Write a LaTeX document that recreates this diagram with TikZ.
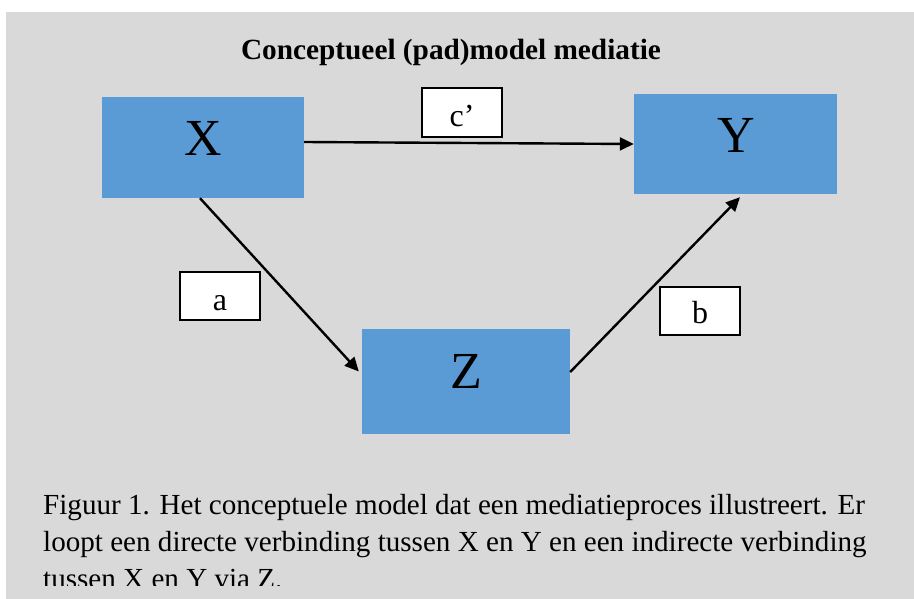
\documentclass[tikz,border=0pt]{standalone}
\usepackage{fontspec}
\setmainfont{Liberation Serif}
\usetikzlibrary{arrows.meta}

\definecolor{panelgray}{HTML}{D9D9D9}
\definecolor{varblue}{HTML}{5B9BD5}

\tikzset{
  varbox/.style={fill=varblue, draw=none, inner sep=0pt},
  varletter/.style={anchor=base, inner sep=0pt, font=\fontsize{52}{60}\selectfont},
  pathlabel/.style={fill=white, draw=black, line width=1.1pt, inner sep=0pt,
                    minimum width=80pt, minimum height=48pt},
  pathtext/.style={anchor=base, inner sep=0pt, font=\fontsize{32}{38}\selectfont},
  effect/.style={line width=2.4pt, -{Triangle[length=14pt,width=13pt]}},
  captionline/.style={anchor=base west, inner sep=0pt, font=\fontsize{29.1}{37}\selectfont}
}

\begin{document}
\begin{tikzpicture}[x=1pt, y=-1pt]
  \useasboundingbox (0,0) rectangle (914,599);
  \fill[white] (0,0) rectangle (914,599);
  \fill[panelgray] (6,12) rectangle (914,599);

  % title
  \node[anchor=base, inner sep=0pt, font=\bfseries\fontsize{29.3}{35}\selectfont]
    (title) at (451,60) {Conceptueel (pad)model mediatie};

  % variables
  \node[varbox, minimum width=202pt, minimum height=101pt] (X) at (203,147.5) {};
  \node[varbox, minimum width=203pt, minimum height=100pt] (Y) at (735.5,144) {};
  \node[varbox, minimum width=208pt, minimum height=105pt] (Z) at (466,381.5) {};
  \node[varletter] (Xt) at (203,156) {X};
  \node[varletter] (Yt) at (736,153) {Y};
  \node[varletter] (Zt) at (466,388) {Z};

  % paths
  \draw[effect] ([yshift=5.5pt]X.east) -- (Y.west);
  \draw[effect] ([xshift=-3pt]X.south) -- ([xshift=-3pt,yshift=10pt]Z.west);
  \draw[effect] ([yshift=9.5pt]Z.east) -- ([xshift=4.5pt,yshift=-3pt]Y.south);

  % path coefficient labels
  \node[pathlabel, minimum height=49pt] (cbox) at (462,112.5) {};
  \node[pathlabel] (abox) at (220,296) {};
  \node[pathlabel] (bbox) at (700,311) {};
  \node[pathtext] (ct) at (462,127) {c’};
  \node[pathtext] (at) at (220,310) {a};
  \node[pathtext] (bt) at (700,323) {b};

  % figure caption, cut off at the lower edge of the text area
  \begin{scope}
    \clip (0,0) rectangle (914,585);
    \node[captionline] (cap1) at (43,514)
      {Figuur 1. Het conceptuele model dat een mediatieproces illustreert. Er};
    \node[captionline] (cap2) at (43,551)
      {loopt een directe verbinding tussen X en Y en een indirecte verbinding};
    \node[captionline] (cap3) at (43,588)
      {tussen X en Y via Z.};
  \end{scope}
\end{tikzpicture}
\end{document}
